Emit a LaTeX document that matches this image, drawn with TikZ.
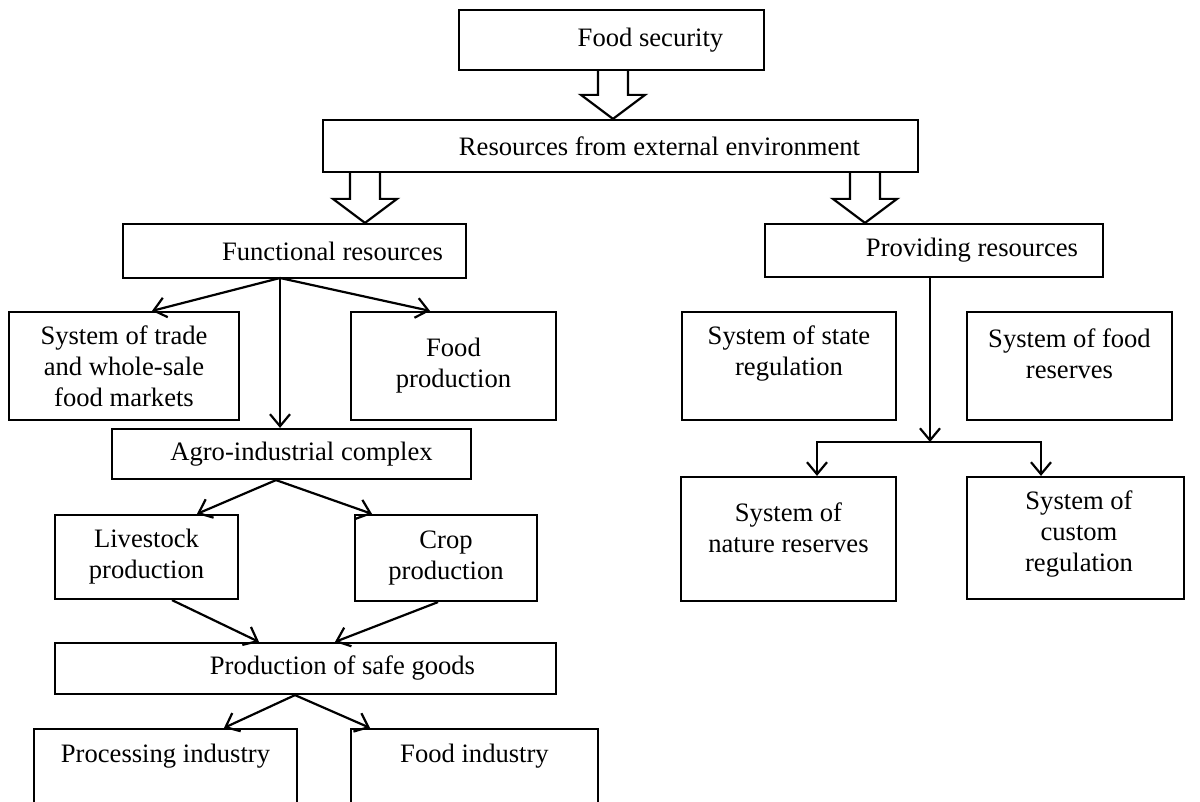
\documentclass[tikz,border=0pt]{standalone}
\usepackage{fontspec}
\setmainfont{Liberation Serif}
\usetikzlibrary{arrows.meta,calc}
\tikzset{
    every node/.style={font=\fontsize{26.6}{31}\selectfont}
}
\tikzset{
    box/.style={draw, line width=2.2pt, inner sep=0pt, align=center},
    txt/.style={inner sep=0pt, align=center}
}
\tikzset{
    arr/.style={line width=2.2pt, -{Straight Barb[length=12pt,width=20pt]}},
    hollow/.style={draw, line width=2.2pt, fill=white, line join=miter}
}
% #1 x of the arrow, #2 upper node, #3 lower node
\newcommand{\hollowdown}[3]{%
  \draw[hollow] let \p1=(#2.south), \p2=(#3.north) in
    (#1-15,\y1) -- (#1-15,\y2+24pt) -- (#1-32,\y2+24pt) -- (#1,\y2)
    -- (#1+32,\y2+24pt) -- (#1+15,\y2+24pt) -- (#1+15,\y1);
}

\begin{document}
\begin{tikzpicture}[x=1pt, y=-1pt]
  \useasboundingbox (0,0) rectangle (1200,802);
  \clip (0,0) rectangle (1200,802);

  \node (food) [box, minimum width=305pt, minimum height=60pt] at (611.5,40) {\hspace*{78pt}Food security};
  \node (res) [box, minimum width=595pt, minimum height=52pt] at (620.5,146) {\hspace*{78pt}Resources from external environment};
  \node (func) [box, minimum width=343pt, minimum height=54pt] at (294.5,251) {\hspace*{76pt}Functional resources};
  \node (prov) [box, minimum width=338pt, minimum height=53pt] at (934,250.5) {\hspace*{76pt}Providing resources};

  % left branch
  \node (trade) [box, minimum width=230pt, minimum height=108pt] at (124,366) {System of trade\\and whole-sale\\food markets};
  \node (foodprod) [box, minimum width=205pt, minimum height=108pt] at (453.5,366) {Food\\production};
  \node (agro) [box, minimum width=359pt, minimum height=50pt] at (291.5,454) {\hspace*{20pt}Agro-industrial complex};
  \node (livestock) [box, minimum width=183pt, minimum height=84pt] at (146.5,557) {Livestock\\production};
  \node (crop) [box, minimum width=182pt, minimum height=86pt] at (446,558) {Crop\\production};
  \node (safe) [box, minimum width=501pt, minimum height=51pt] at (305.5,668.5) {\hspace*{74pt}Production of safe goods};
  \node (proc) [box, minimum width=263pt, minimum height=101pt] at (165.5,779.5) {};
  \node (procT) [txt] at (165.5,756) {Processing industry};
  \node (foodind) [box, minimum width=247pt, minimum height=101pt] at (474.5,779.5) {};
  \node (foodindT) [txt] at (474.5,756) {Food industry};

  % right branch
  \node (statereg) [box, minimum width=214pt, minimum height=108pt] at (789,366) {};
  \node (stateregT) [txt] at (789,354) {System of state\\regulation};
  \node (foodres) [box, minimum width=205pt, minimum height=108pt] at (1069.5,366) {};
  \node (foodresT) [txt] at (1069.5,354) {System of food\\reserves};
  \node (nature) [box, minimum width=215pt, minimum height=124pt] at (788.5,539) {};
  \node (natureT) [txt] at (788.5,527.5) {System of\\nature reserves};
  \node (custom) [box, minimum width=217pt, minimum height=122pt] at (1075.5,538) {};
  \node (customT) [txt] at (1079,534) {System of\\custom\\regulation};

  \hollowdown{613}{food}{res}
  \hollowdown{365}{res}{func}
  \hollowdown{865}{res}{prov}

  \coordinate (fsplit) at (280,278);
  \draw[arr] (fsplit) -- ([xshift=28pt]trade.north);
  \draw[arr] (fsplit) -- ([xshift=-23.5pt]foodprod.north);
  \draw[arr] (fsplit) -- (fsplit |- agro.north);

  \coordinate (asplit) at ([xshift=-15.5pt]agro.south);
  \draw[arr] (asplit) -- ([xshift=50.5pt]livestock.north);
  \draw[arr] (asplit) -- ([xshift=-74pt]crop.north);
  \draw[arr] ([xshift=25.5pt]livestock.south) -- ([xshift=-46.5pt]safe.north);
  \draw[arr] ([xshift=-8pt]crop.south) -- ([xshift=29.5pt]safe.north);

  \coordinate (ssplit) at ([xshift=-10.5pt]safe.south);
  \draw[arr] (ssplit) -- ([xshift=58.5pt]proc.north);
  \draw[arr] (ssplit) -- ([xshift=-104.5pt]foodind.north);

  \coordinate (psplit) at (930,442);
  \draw[arr] ([xshift=-4pt]prov.south) -- (psplit);
  \draw[arr] (psplit) -| ([xshift=28.5pt]nature.north);
  \draw[arr] (psplit) -| ([xshift=-34.5pt]custom.north);
\end{tikzpicture}
\end{document}
